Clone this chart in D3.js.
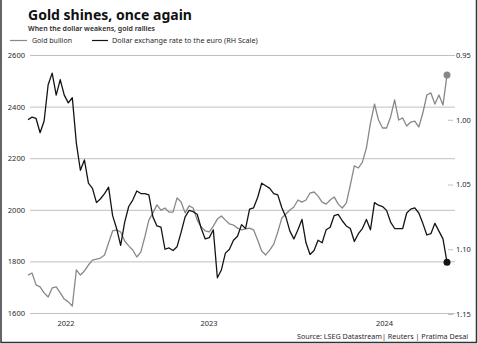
<!DOCTYPE html>
<html><head><meta charset="utf-8">
<script src="https://cdn.jsdelivr.net/npm/d3@7"></script>
<style>
html,body{margin:0;padding:0;background:#fff;}
svg{display:block;}
text{font-family:"Noto Sans","Open Sans",sans-serif;}
</style></head>
<body><svg id="c" width="478" height="344"></svg>
<script>
// ---- data (weekly, starting 2022-08-22) ----
const startDate = "2022-08-22";
const stepDays = 7;
const gold = [1747,1755,1709,1701,1678,1662,1697,1701,1678,1654,1643,1627,1767,1747,1763,1786,1805,1809,1813,1825,
1871,1918,1922,1914,1879,1860,1844,1817,1836,1895,1960,1988,2019,1999,2007,1991,1991,2046,2030,1988,
2015,2007,1960,1933,1918,1914,1937,1964,1976,1960,1945,1941,1929,1922,1926,1929,1922,1883,1840,1825,
1844,1867,1914,1968,1984,1999,2011,2038,2030,2038,2065,2069,2053,2030,2022,2038,2050,2022,2007,2026,
2096,2170,2162,2185,2240,2336,2410,2348,2317,2317,2360,2426,2348,2356,2325,2340,2344,2321,2375,2445,
2453,2410,2445,2406,2522];
const eurusd = [1.000,0.998,0.999,1.010,1.001,0.973,0.964,0.981,0.969,0.981,0.987,0.983,1.018,1.039,1.031,1.049,1.053,1.064,1.061,1.057,
1.052,1.074,1.084,1.097,1.079,1.067,1.062,1.055,1.057,1.057,1.058,1.075,1.082,1.083,1.100,1.099,1.101,1.098,1.087,1.075,
1.070,1.071,1.073,1.084,1.092,1.091,1.085,1.122,1.116,1.103,1.100,1.093,1.090,1.081,1.084,1.069,1.068,1.060,1.049,1.051,
1.053,1.057,1.058,1.068,1.075,1.086,1.092,1.085,1.077,1.095,1.104,1.101,1.093,1.095,1.085,1.083,1.074,1.073,1.078,1.082,
1.084,1.094,1.088,1.084,1.077,1.085,1.064,1.066,1.067,1.070,1.079,1.084,1.084,1.084,1.072,1.069,1.068,1.072,1.080,1.089,
1.088,1.080,1.086,1.092,1.110];
const goldTicks = [1600,1800,2000,2200,2400,2600];
const fxTicks = [0.95,1.00,1.05,1.10,1.15];
const years = ["2022","2023","2024"];
const title = "Gold shines, once again";
const subtitle = "When the dollar weakens, gold rallies";
const legendLabels = ["Gold bullion","Dollar exchange rate to the euro (RH Scale)"];
const source = "Source: LSEG Datastream| Reuters | Pratima Desai";

// ---- build ----
const parse = d3.timeParse("%Y-%m-%d");
const t0 = parse(startDate);
const dates = gold.map((_, i) => d3.timeDay.offset(t0, i * stepDays));
const svg = d3.select("#c");
const GOLD_C = "#888888", FX_C = "#141414", GRID_C = "#c0c0c0", TXT_C = "#2a2a2a";

const x = d3.scaleTime().domain([dates[0], dates[dates.length - 1]]).range([28, 447]);
const yL = d3.scaleLinear().domain([1600, 2600]).range([313, 55]);
const yR = d3.scaleLinear().domain([0.95, 1.15]).range([55, 314]);

function fitText(sel, target) {
  const n = sel.node();
  const fs = parseFloat(sel.attr("font-size"));
  const w = n.getComputedTextLength();
  if (w > 0) sel.attr("font-size", (fs * target / w).toFixed(2));
  return sel;
}

// border
svg.append("path").attr("d", "M1,0 V342.5 H476.5 V0").attr("fill", "none").attr("stroke", "#333").attr("stroke-width", 1.5);

// titles
fitText(svg.append("text").attr("x", 28).attr("y", 20).attr("font-size", 16).attr("font-weight", 700).attr("fill", "#111").text(title), 164);
fitText(svg.append("text").attr("x", 28).attr("y", 31).attr("font-size", 7).attr("font-weight", 600).attr("fill", TXT_C).text(subtitle), 127);

// legend
const lg = svg.append("g");
lg.append("line").attr("x1", 10).attr("x2", 27).attr("y1", 40.5).attr("y2", 40.5).attr("stroke", GOLD_C).attr("stroke-width", 1.2);
fitText(lg.append("text").attr("x", 32).attr("y", 43).attr("font-size", 7).attr("fill", TXT_C).text(legendLabels[0]), 40);
lg.append("line").attr("x1", 92).attr("x2", 108).attr("y1", 40.5).attr("y2", 40.5).attr("stroke", FX_C).attr("stroke-width", 1.2);
fitText(lg.append("text").attr("x", 112).attr("y", 43).attr("font-size", 7).attr("fill", TXT_C).text(legendLabels[1]), 146);

// left axis with gridlines
const gl = svg.append("g").attr("transform", "translate(30,0)")
  .call(d3.axisLeft(yL).tickValues(goldTicks).tickSize(-425).tickPadding(5).tickFormat(d3.format("d")));
gl.select(".domain").remove();
gl.selectAll(".tick line").attr("stroke", GRID_C).attr("stroke-width", 1);
gl.selectAll(".tick text").attr("font-size", 7.5).attr("fill", TXT_C).attr("font-family", "Noto Sans, sans-serif");

// right axis
const gr = svg.append("g").attr("transform", "translate(448,0)")
  .call(d3.axisRight(yR).tickValues(fxTicks).tickSize(5).tickPadding(3).tickFormat(d3.format(".2f")));
gr.select(".domain").remove();
gr.selectAll(".tick line").attr("stroke", GRID_C);
gr.selectAll(".tick text").attr("font-size", 7.5).attr("fill", TXT_C).attr("font-family", "Noto Sans, sans-serif");

// year labels centred in each year's span
const xEnd = x.invert(455);
years.forEach(yv => {
  const a = d3.max([x.domain()[0], new Date(+yv, 0, 1)]);
  const b = d3.min([xEnd, new Date(+yv + 1, 0, 1)]);
  svg.append("text").attr("x", (x(a) + x(b)) / 2).attr("y", 326).attr("text-anchor", "middle")
    .attr("font-size", 7.5).attr("fill", TXT_C).text(yv);
});

// lines
const lineGold = d3.line().x((d, i) => x(dates[i])).y(d => yL(d));
const lineFx = d3.line().x((d, i) => x(dates[i])).y(d => yR(d));
svg.append("path").datum(gold).attr("d", lineGold).attr("fill", "none").attr("stroke", GOLD_C).attr("stroke-width", 1.3).attr("stroke-linejoin", "round");
svg.append("path").datum(eurusd).attr("d", lineFx).attr("fill", "none").attr("stroke", FX_C).attr("stroke-width", 1.3).attr("stroke-linejoin", "round");
const last = gold.length - 1;
svg.append("circle").attr("cx", x(dates[last])).attr("cy", yL(gold[last])).attr("r", 3.5).attr("fill", GOLD_C);
svg.append("circle").attr("cx", x(dates[last])).attr("cy", yR(eurusd[last])).attr("r", 3.5).attr("fill", FX_C);

// source
const st = svg.append("text").attr("x", 468).attr("y", 339).attr("text-anchor", "end").attr("font-size", 7).attr("fill", TXT_C).text(source);
fitText(st, 171);
</script></body></html>
